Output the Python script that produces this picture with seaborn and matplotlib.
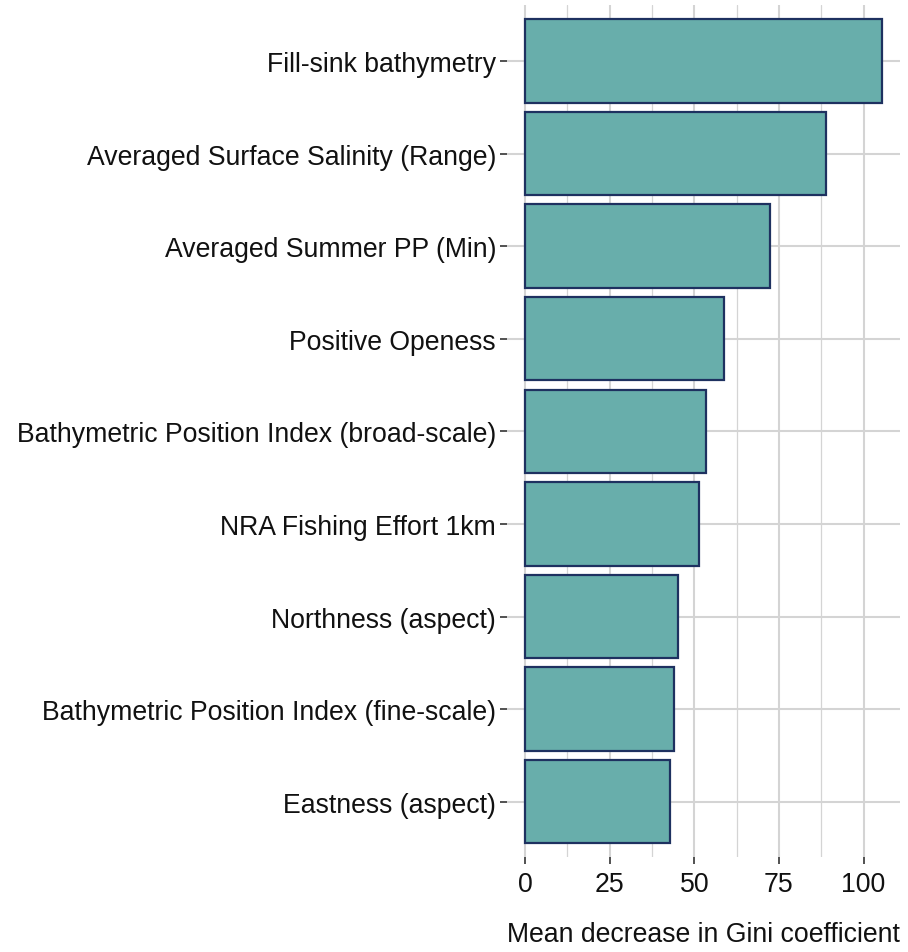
import matplotlib
matplotlib.use("Agg")
import matplotlib.pyplot as plt
import seaborn as sns
import pandas as pd
from matplotlib.ticker import MultipleLocator

variables = [
    "Fill-sink bathymetry",
    "Averaged Surface Salinity (Range)",
    "Averaged Summer PP (Min)",
    "Positive Openess",
    "Bathymetric Position Index (broad-scale)",
    "NRA Fishing Effort 1km",
    "Northness (aspect)",
    "Bathymetric Position Index (fine-scale)",
    "Eastness (aspect)",
]
gini = [105.4, 88.9, 72.4, 58.8, 53.5, 51.4, 45.3, 43.9, 42.7]
xticks = [0, 25, 50, 75, 100]

df = pd.DataFrame({"variable": variables, "gini": gini})

sns.set_theme(style="white")
plt.rcParams["font.family"] = ["Liberation Sans", "DejaVu Sans"]

fig = plt.figure(figsize=(9.08, 9.53), dpi=100)
ax = fig.add_axes([0.5586, 0.0994, 0.9909 - 0.5586, 0.9933 - 0.0994])

sns.barplot(data=df, x="gini", y="variable", orient="h", order=variables,
            color="#68AEAB", saturation=1, width=0.9,
            edgecolor="#1E3160", linewidth=1.6, ax=ax, zorder=3)

xmax = max(gini)
ax.set_xlim(-0.05 * xmax, 1.05 * xmax)
ax.set_ylim(len(variables) - 0.4, -0.6)

ax.set_xticks(xticks)
ax.set_xticklabels([str(t) for t in xticks])
ax.xaxis.set_minor_locator(MultipleLocator(12.5))
ax.grid(True, which="major", axis="both", color="#D4D4D4", linewidth=1.5, zorder=0)
ax.grid(True, which="minor", axis="x", color="#D4D4D4", linewidth=0.9, zorder=0)
ax.set_axisbelow(True)

for s in ax.spines.values():
    s.set_visible(False)

ax.tick_params(axis="both", which="major", length=5, width=1.2, color="#333333",
               labelsize=19.2, labelcolor="#111111", pad=3, bottom=True, left=True)
ax.tick_params(axis="x", which="major", pad=5)
ax.tick_params(axis="x", which="minor", length=0)

ax.set_ylabel("")
ax.set_xlabel("Mean decrease in Gini coefficient", fontsize=19.2, color="#111111",
              loc="right", labelpad=17)

fig.savefig("out.png", dpi=100, facecolor="white")
